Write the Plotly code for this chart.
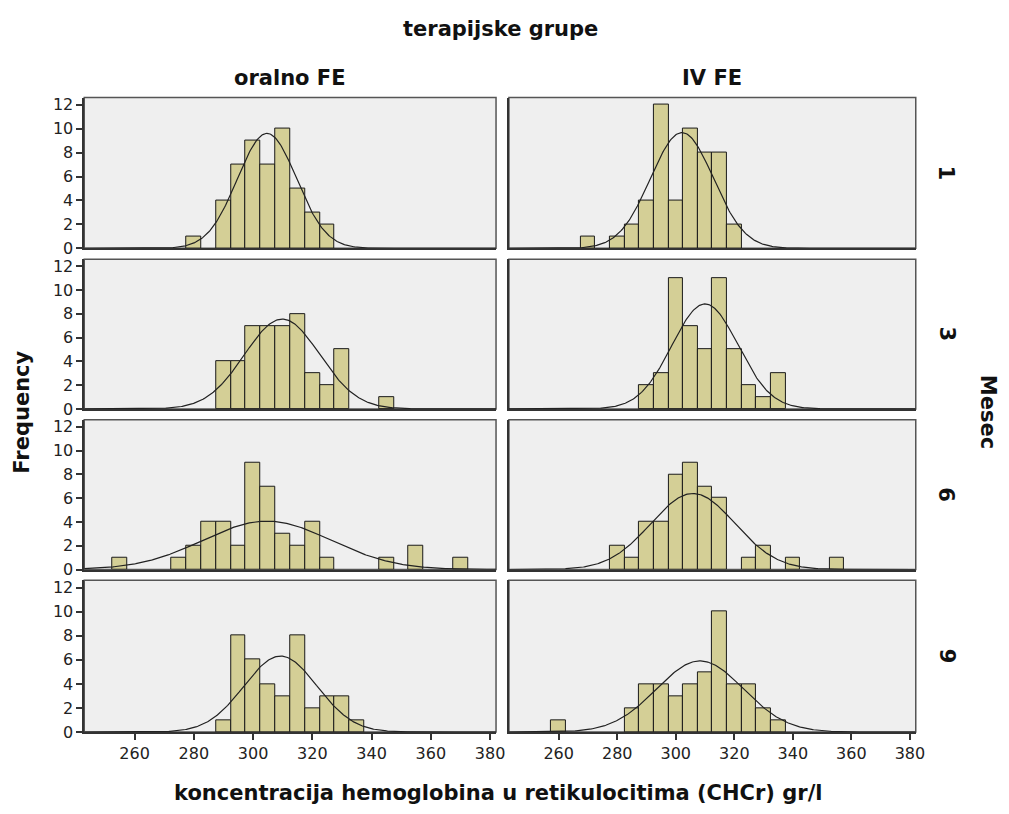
import numpy as np
import plotly.graph_objects as go
from plotly.subplots import make_subplots

# ---- data (bin centers, bin width 5) ----
groups = ["oralno FE", "IV FE"]
months = ["1", "3", "6", "9"]
bin_width = 5

oral_m1_x = [280, 290, 295, 300, 305, 310, 315, 320, 325]
oral_m1_y = [1, 4, 7, 9, 7, 10, 5, 3, 2]
iv_m1_x = [270, 280, 285, 290, 295, 300, 305, 310, 315, 320]
iv_m1_y = [1, 1, 2, 4, 12, 4, 10, 8, 8, 2]

oral_m3_x = [290, 295, 300, 305, 310, 315, 320, 325, 330, 345]
oral_m3_y = [4, 4, 7, 7, 7, 8, 3, 2, 5, 1]
iv_m3_x = [290, 295, 300, 305, 310, 315, 320, 325, 330, 335]
iv_m3_y = [2, 3, 11, 7, 5, 11, 5, 2, 1, 3]

oral_m6_x = [255, 275, 280, 285, 290, 295, 300, 305, 310, 315, 320, 325, 345, 355, 370]
oral_m6_y = [1, 1, 2, 4, 4, 2, 9, 7, 3, 2, 4, 1, 1, 2, 1]
iv_m6_x = [280, 285, 290, 295, 300, 305, 310, 315, 325, 330, 340, 355]
iv_m6_y = [2, 1, 4, 4, 8, 9, 7, 6, 1, 2, 1, 1]

oral_m9_x = [290, 295, 300, 305, 310, 315, 320, 325, 330, 335]
oral_m9_y = [1, 8, 6, 4, 3, 8, 2, 3, 3, 1]
iv_m9_x = [260, 285, 290, 295, 300, 305, 310, 315, 320, 325, 330, 335]
iv_m9_y = [1, 2, 4, 4, 3, 4, 5, 10, 4, 4, 2, 1]

panels = [
    [(oral_m1_x, oral_m1_y), (iv_m1_x, iv_m1_y)],
    [(oral_m3_x, oral_m3_y), (iv_m3_x, iv_m3_y)],
    [(oral_m6_x, oral_m6_y), (iv_m6_x, iv_m6_y)],
    [(oral_m9_x, oral_m9_y), (iv_m9_x, iv_m9_y)],
]

x_ticks = [260, 280, 300, 320, 340, 360, 380]
y_ticks = [0, 2, 4, 6, 8, 10, 12]

W, H = 1009, 814
col_px = [(85, 500.5), (513.5, 924)]
row_px = [(97, 250), (261, 413), (424, 576), (587, 741)]

BAR = "#D4CF96"
BG = "#EFEFEF"
FONT = "DejaVu Sans, Verdana, sans-serif"
TFS = 16   # tick font size
LFS = 21   # label font size

fig = make_subplots(rows=4, cols=2)

for r in range(4):
    for c in range(2):
        xs, ys = panels[r][c]
        xs = np.array(xs, float)
        ys = np.array(ys, float)
        n = ys.sum()
        mean = (xs * ys).sum() / n
        sd = np.sqrt((ys * (xs - mean) ** 2).sum() / (n - 1))
        fig.add_trace(go.Bar(x=xs, y=ys, width=bin_width,
                             marker=dict(color=BAR, line=dict(color="#1a1a1a", width=1)),
                             showlegend=False, hoverinfo="x+y"), row=r + 1, col=c + 1)
        gx = np.linspace(243, 382, 400)
        gy = n * bin_width / (sd * np.sqrt(2 * np.pi)) * np.exp(-0.5 * ((gx - mean) / sd) ** 2)
        fig.add_trace(go.Scatter(x=gx, y=gy, mode="lines",
                                 line=dict(color="#222222", width=1.2),
                                 showlegend=False, hoverinfo="skip"), row=r + 1, col=c + 1)

for r in range(4):
    for c in range(2):
        idx = r * 2 + c + 1
        xa = "xaxis" if idx == 1 else f"xaxis{idx}"
        ya = "yaxis" if idx == 1 else f"yaxis{idx}"
        x0, x1 = col_px[c]
        y0, y1 = row_px[r]
        fig.layout[xa].update(
            domain=[x0 / W, x1 / W], range=[243, 382],
            showgrid=False, zeroline=False,
            showline=True, linecolor="#333333", linewidth=1.5, mirror=False,
            tickvals=x_ticks if r == 3 else [],
            ticks="outside" if r == 3 else "", ticklen=6, tickcolor="#333333", tickwidth=1.5,
            showticklabels=(r == 3),
            tickfont=dict(family=FONT, size=TFS, color="#222222"),
        )
        fig.layout[ya].update(
            domain=[1 - y1 / H, 1 - y0 / H], range=[0, 12.6],
            showgrid=False, zeroline=False,
            showline=True, linecolor="#333333", linewidth=1.5, mirror=False,
            tickvals=y_ticks if c == 0 else [],
            ticks="outside" if c == 0 else "", ticklen=6, tickcolor="#333333", tickwidth=1.5,
            showticklabels=(c == 0),
            tickfont=dict(family=FONT, size=TFS, color="#222222"),
        )
        fig.add_shape(type="rect", xref="paper", yref="paper",
                      x0=x0 / W, x1=x1 / W, y0=1 - y1 / H, y1=1 - y0 / H,
                      line=dict(color="#555555", width=1.5), fillcolor=BG, layer="below")


def lab(text, x, y, angle=0):
    return dict(text=f"<b>{text}</b>", x=x / W, y=1 - y / H, xref="paper", yref="paper",
                xanchor="center", yanchor="middle", showarrow=False, textangle=angle,
                font=dict(family=FONT, size=LFS, color="#111111"))


ann = [lab("terapijske grupe", 505, 27)]
for c, g in enumerate(groups):
    cx = (col_px[c][0] + col_px[c][1]) / 2
    ann.append(lab(g, cx, 77))
for r, m in enumerate(months):
    cy = (row_px[r][0] + row_px[r][1]) / 2
    ann.append(lab(m, 955, cy, 90))
ann.append(lab("Mesec", 997, 416, 90))
ann.append(lab("Frequency", 22, 416, -90))
ann.append(lab("koncentracija hemoglobina u retikulocitima (CHCr) gr/l", 503, 803))

fig.update_layout(
    width=W, height=H, margin=dict(l=0, r=0, t=0, b=0),
    paper_bgcolor="white", plot_bgcolor="rgba(0,0,0,0)",
    bargap=0, annotations=ann, showlegend=False,
    font=dict(family=FONT),
)

fig.write_html("out.html")
